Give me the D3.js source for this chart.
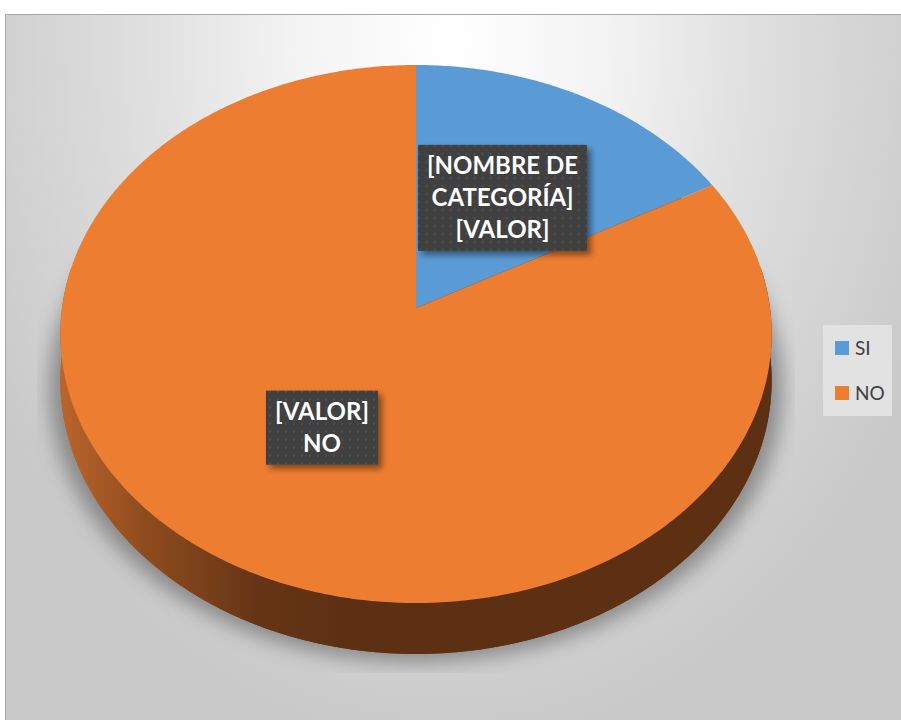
<!DOCTYPE html>
<html>
<head>
<meta charset="utf-8">
<script src="https://cdn.jsdelivr.net/npm/d3@7"></script>
<style>
  body { margin: 0; background: #fff; }
  svg { display: block; }
</style>
</head>
<body>
<svg id="chart" width="901" height="720"></svg>
<script>
// data
var categories = ["SI", "NO"];
var values = [17, 83];
var labelLines = [["[NOMBRE DE", "CATEGORÍA]", "[VALOR]"], ["[VALOR]", "NO"]];
var colors = ["#5b9bd5", "#ed7d31"];

var svg = d3.select("#chart"),
	width = +svg.attr("width"),
	height = +svg.attr("height");

// perspective disc: centre, radii, tilt factor, thickness
var CX = 416, CY = 308, KX = 354, KY = 266.5, A = 0.0967, H = 46;

function proj(theta, rho, drop) {
	var u = rho * Math.sin(theta), w = rho * Math.cos(theta);
	var s = 1 + A * w;
	return [CX + KX * u / s, CY - (KY * w - drop) / s];
}

function arcPts(a0, a1, rho, drop) {
	var n = Math.max(2, Math.ceil(Math.abs(a1 - a0) / 0.01));
	return d3.range(n + 1).map(i => proj(a0 + (a1 - a0) * i / n, rho, drop));
}

var line = d3.line();
var color = d3.scaleOrdinal().domain(categories).range(colors);

var defs = svg.append("defs");

var bg = defs.append("radialGradient")
	.attr("id", "bg")
	.attr("gradientUnits", "userSpaceOnUse")
	.attr("cx", 450).attr("cy", 40).attr("r", 700)
	.attr("gradientTransform", "translate(450,40) scale(0.75,1) translate(-450,-40)");
[[0, "#ffffff"], [0.3, "#f3f3f3"], [0.6, "#dedede"], [0.85, "#d1d1d1"], [1, "#c9c9c9"]]
	.forEach(s => bg.append("stop").attr("offset", s[0]).attr("stop-color", s[1]));

var side = defs.append("linearGradient")
	.attr("id", "side")
	.attr("gradientUnits", "userSpaceOnUse")
	.attr("x1", 60).attr("x2", 340).attr("y1", 0).attr("y2", 0);
[[0, "#bb652b"], [0.3, "#8f4c1e"], [0.7, "#663515"], [1, "#5e3013"]]
	.forEach(s => side.append("stop").attr("offset", s[0]).attr("stop-color", s[1]));

defs.append("filter").attr("id", "blur")
	.attr("x", "-20%").attr("y", "-20%").attr("width", "140%").attr("height", "140%")
	.append("feGaussianBlur").attr("stdDeviation", 10);

var ds = defs.append("filter").attr("id", "boxshadow")
	.attr("x", "-20%").attr("y", "-20%").attr("width", "150%").attr("height", "150%");
ds.append("feDropShadow").attr("dx", 4).attr("dy", 4).attr("stdDeviation", 3)
	.attr("flood-color", "#000").attr("flood-opacity", 0.45);

defs.append("clipPath").attr("id", "shadowclip")
	.append("rect").attr("x", 37).attr("y", 245).attr("width", 758).attr("height", 428);

var pat = defs.append("pattern").attr("id", "dots")
	.attr("patternUnits", "userSpaceOnUse").attr("width", 8).attr("height", 8);
pat.append("rect").attr("width", 8).attr("height", 8).attr("fill", "#404040");
pat.append("circle").attr("cx", 4).attr("cy", 4).attr("r", 1.2).attr("fill", "#4d4d4d");

// frame
svg.append("rect")
	.attr("x", 5.5).attr("y", 14.5)
	.attr("width", width).attr("height", height)
	.attr("fill", "url(#bg)")
	.attr("stroke", "#a6a6a6");

var full = arcPts(0, 2 * Math.PI, 1, H);

// shadow under the pie
svg.append("g").attr("clip-path", "url(#shadowclip)")
	.append("path")
	.attr("d", line(full.map(p => [CX + (p[0] - CX) * 1.03, p[1] + 8])) + "Z")
	.attr("fill", "#5a5a5a")
	.attr("opacity", 0.6)
	.attr("filter", "url(#blur)");

// side wall
var sideTop = arcPts(Math.PI * 0.45, Math.PI * 1.55, 1, 0);
var sideBot = arcPts(Math.PI * 1.55, Math.PI * 0.45, 1, H);
svg.append("path").attr("d", line(full) + "Z").attr("fill", "url(#side)");
svg.append("path").attr("d", line(sideTop.concat(sideBot)) + "Z").attr("fill", "url(#side)");

// top slices
var pie = d3.pie().sort(null).startAngle(0).endAngle(2 * Math.PI);
var arcs = pie(values);

svg.selectAll("path.slice")
	.data(arcs)
	.enter().append("path")
	.attr("class", "slice")
	.attr("d", d => line([proj(0, 0, 0)].concat(arcPts(d.startAngle, d.endAngle, 1, 0))) + "Z")
	.attr("fill", (d, i) => color(categories[i]));

// data labels
var LH = 32;
var labels = svg.selectAll("g.label")
	.data(arcs)
	.enter().append("g")
	.attr("class", "label")
	.attr("transform", d => {
		var p = proj((d.startAngle + d.endAngle) / 2, 0.5, 0);
		return `translate(${p[0]},${p[1]})`;
	});

labels.each(function(d, i) {
	var g = d3.select(this);
	var lines = labelLines[i];
	var box = g.append("rect").attr("fill", "url(#dots)").attr("filter", "url(#boxshadow)");
	var txt = g.append("text")
		.attr("text-anchor", "middle")
		.attr("font-family", "Lato, 'Open Sans', sans-serif")
		.attr("font-weight", "bold")
		.attr("font-size", 24)
		.attr("fill", "#fff");
	lines.forEach((l, k) => {
		txt.append("tspan")
			.attr("x", 0)
			.attr("y", (k - (lines.length - 1) / 2) * LH + 8.5)
			.text(l);
	});
	var w = txt.node().getBBox().width + 18;
	var h = lines.length * LH + 10;
	box.attr("x", -w / 2).attr("y", -h / 2).attr("width", w).attr("height", h);
});

// legend
var legend = svg.append("g").attr("transform", "translate(823,325)");
legend.append("rect").attr("width", 69).attr("height", 91).attr("fill", "#e2e2e2");
var items = legend.selectAll("g.item")
	.data(categories)
	.enter().append("g")
	.attr("class", "item")
	.attr("transform", (d, i) => `translate(12,${16 + i * 45})`);
items.append("rect").attr("width", 14).attr("height", 14).attr("fill", d => color(d));
items.append("text")
	.attr("x", 20).attr("y", 13.5)
	.attr("font-family", "Lato, 'Open Sans', sans-serif")
	.attr("font-size", 19)
	.attr("fill", "#404040")
	.text(d => d);
</script>
</body>
</html>
